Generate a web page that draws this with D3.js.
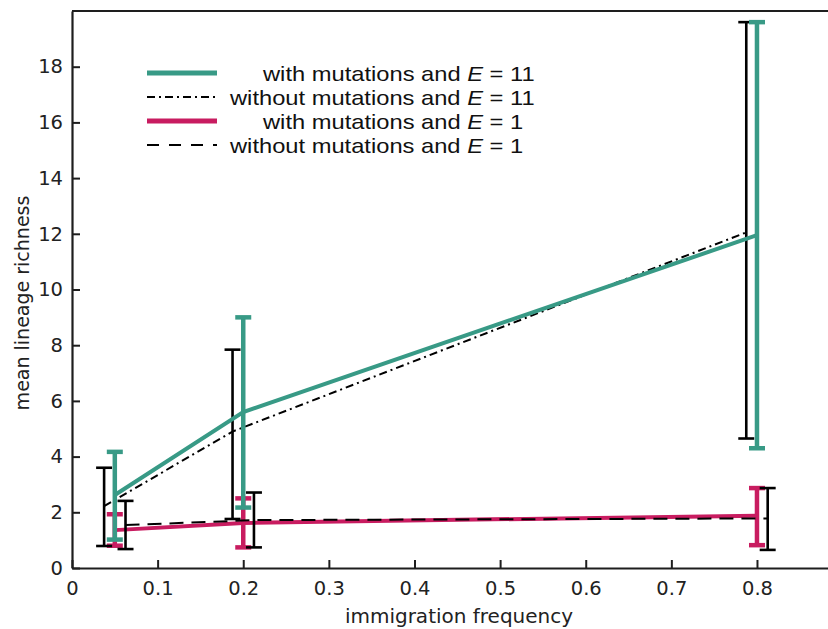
<!DOCTYPE html>
<html><head><meta charset="utf-8">
<script src="https://cdn.jsdelivr.net/npm/d3@7"></script>
<style>
html,body{margin:0;padding:0;background:#fff;}
svg{display:block;}
</style></head>
<body>
<svg id="chart" width="828" height="629"></svg>
<script>
// ---- data ----
const xTicks = [0, 0.1, 0.2, 0.3, 0.4, 0.5, 0.6, 0.7, 0.8];
const xTickLabels = ["0", "0.1", "0.2", "0.3", "0.4", "0.5", "0.6", "0.7", "0.8"];
const yTicks = [0, 2, 4, 6, 8, 10, 12, 14, 16, 18];

// with mutations, E = 11
const mutE11X = [0.05, 0.2, 0.8];
const mutE11Mean = [2.62, 5.6, 11.95];
const mutE11Low = [1.02, 2.17, 4.3];
const mutE11High = [4.17, 9.0, 19.6];

// without mutations, E = 11
const noMutE11X = [0.0375, 0.1875, 0.7875];
const noMutE11Mean = [2.22, 4.9, 12.05];
const noMutE11Low = [0.79, 1.76, 4.65];
const noMutE11High = [3.6, 7.84, 19.6];

// with mutations, E = 1
const mutE1X = [0.05, 0.2, 0.8];
const mutE1Mean = [1.36, 1.62, 1.88];
const mutE1Low = [0.8, 0.74, 0.82];
const mutE1High = [1.93, 2.5, 2.87];

// without mutations, E = 1
const noMutE1X = [0.0625, 0.2125, 0.8125];
const noMutE1Mean = [1.54, 1.72, 1.78];
const noMutE1Low = [0.68, 0.74, 0.65];
const noMutE1High = [2.41, 2.71, 2.87];

const legendLabels = [
  "with mutations and ", "without mutations and ",
  "with mutations and ", "without mutations and "];
const legendE = ["11", "11", "1", "1"];

// ---- drawing ----
const teal = "#389a86", pink = "#c81c60", ink = "#1e1e1e";
const svg = d3.select("#chart");
const x = d3.scaleLinear().domain([0, 0.9]).range([72, 842.6]);
const y = d3.scaleLinear().domain([0, 20]).range([568, 11]);

function zip(xs, ms, lo, hi) { return xs.map((v, i) => ({x: v, m: ms[i], lo: lo[i], hi: hi[i]})); }
const series = [
  {d: zip(mutE1X, mutE1Mean, mutE1Low, mutE1High), color: pink, lw: 4, ew: 4.5, cap: 16, dash: null},
  {d: zip(noMutE1X, noMutE1Mean, noMutE1Low, noMutE1High), color: "#000", lw: 2, ew: 2.6, cap: 16, dash: "14,8"},
  {d: zip(noMutE11X, noMutE11Mean, noMutE11Low, noMutE11High), color: "#000", lw: 2, ew: 2.6, cap: 16, dash: "8,4,2,4"},
  {d: zip(mutE11X, mutE11Mean, mutE11Low, mutE11High), color: teal, lw: 4, ew: 4.5, cap: 16, dash: null}
];

const line = d3.line().x(d => x(d.x)).y(d => y(d.m));
const plot = svg.append("g");
series.forEach(s => {
  const g = plot.append("g");
  g.append("path").datum(s.d).attr("d", line).attr("fill", "none")
    .attr("stroke", s.color).attr("stroke-width", s.lw)
    .attr("stroke-dasharray", s.dash);
  const eb = g.selectAll(".eb").data(s.d).enter().append("g");
  eb.append("line").attr("x1", d => x(d.x)).attr("x2", d => x(d.x))
    .attr("y1", d => y(d.lo)).attr("y2", d => y(d.hi))
    .attr("stroke", s.color).attr("stroke-width", s.ew);
  ["lo", "hi"].forEach(k => {
    eb.append("line").attr("x1", d => x(d.x) - s.cap / 2).attr("x2", d => x(d.x) + s.cap / 2)
      .attr("y1", d => y(d[k])).attr("y2", d => y(d[k]))
      .attr("stroke", s.color).attr("stroke-width", s.ew);
  });
});

// axes
const tickFont = "'DejaVu Sans', sans-serif";
const xAxis = d3.axisBottom(x).tickValues(xTicks).tickFormat((d, i) => xTickLabels[i])
  .tickSizeInner(-8).tickSizeOuter(0).tickPadding(13);
const gx = svg.append("g").attr("transform", "translate(0,568)").call(xAxis);
gx.select(".domain").attr("stroke", ink).attr("stroke-width", 2.2);
gx.selectAll(".tick line").attr("stroke", ink).attr("stroke-width", 2);
gx.selectAll(".tick text").attr("fill", "#222").style("font-family", tickFont).style("font-size", "19.5px");

const yAxis = d3.axisLeft(y).tickValues(yTicks).tickSizeInner(-8).tickSizeOuter(0).tickPadding(9);
const gy = svg.append("g").attr("transform", "translate(72,0)").call(yAxis);
gy.select(".domain").attr("stroke", ink).attr("stroke-width", 2.2);
gy.selectAll(".tick line").attr("stroke", ink).attr("stroke-width", 2);
gy.selectAll(".tick text").attr("fill", "#222").style("font-family", tickFont).style("font-size", "19.5px");

// top spine
svg.append("line").attr("x1", 72).attr("x2", 828).attr("y1", 11).attr("y2", 11)
  .attr("stroke", ink).attr("stroke-width", 2.2);

// axis labels
svg.append("text").attr("x", 459).attr("y", 623).attr("text-anchor", "middle")
  .style("font-family", tickFont).style("font-size", "20px").attr("fill", "#222")
  .text("immigration frequency");
svg.append("text").attr("transform", "translate(29,303) rotate(-90)").attr("text-anchor", "middle")
  .style("font-family", tickFont).style("font-size", "19px").attr("fill", "#222")
  .text("mean lineage richness");

// legend
const legendStyle = [
  {color: teal, lw: 5, dash: null},
  {color: "#000", lw: 2, dash: "8,4,2,4"},
  {color: pink, lw: 5, dash: null},
  {color: "#000", lw: 2, dash: "12,10"}
];
const leg = svg.append("g");
const legFont = 21, legStretch = 23.7 / 21;
legendLabels.forEach((t, i) => {
  const ly = 73 + i * 24;
  leg.append("line").attr("x1", 147).attr("x2", 217).attr("y1", ly).attr("y2", ly)
    .attr("stroke", legendStyle[i].color).attr("stroke-width", legendStyle[i].lw)
    .attr("stroke-dasharray", legendStyle[i].dash);
  const tx = leg.append("text").attr("x", t.startsWith("without") ? 230 : 263).attr("y", ly + 8)
    .style("font-family", "'Liberation Sans', Arial, sans-serif").style("font-size", legFont + "px").attr("fill", "#111");
  tx.append("tspan").text(t);
  tx.append("tspan").style("font-style", "italic").text("E");
  tx.append("tspan").text(" = " + legendE[i]);
  const w = tx.node().getComputedTextLength();
  tx.attr("textLength", w * legStretch).attr("lengthAdjust", "spacingAndGlyphs");
});
</script>
</body></html>
